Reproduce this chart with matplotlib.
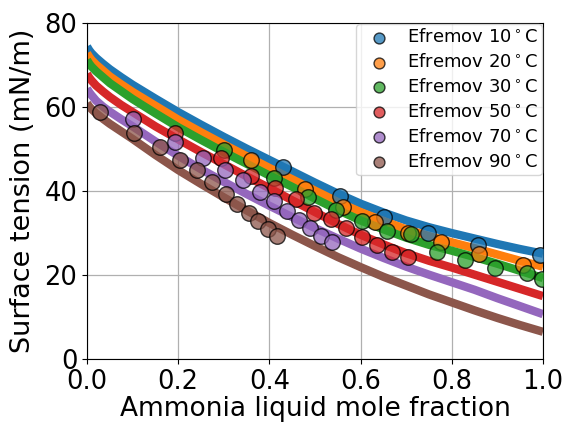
import matplotlib
matplotlib.use("Agg")
import matplotlib.pyplot as plt

# Temperatures and colours
temps = [10, 20, 30, 50, 70, 90]
colors = ["#1f77b4", "#ff7f0e", "#2ca02c", "#d62728", "#9467bd", "#8c564b"]

# Model lines
line_x = [0, 0.005, 0.01, 0.02, 0.035, 0.05, 0.075, 0.1, 0.15, 0.2, 0.25, 0.3, 0.35,
          0.4, 0.45, 0.5, 0.55, 0.6, 0.65, 0.7, 0.75, 0.8, 0.85, 0.9, 0.95, 1.0]
line_10 = [74.4, 73.5, 72.8, 71.7, 70.3, 69.0, 67.1, 65.3, 62.0, 58.8, 55.8, 52.9, 50.1,
           47.4, 44.7, 42.0, 39.4, 37.0, 34.9, 33.0, 31.4, 30.0, 28.7, 27.4, 26.2, 25.1]
line_20 = [72.8, 71.9, 71.2, 70.1, 68.7, 67.3, 65.4, 63.6, 60.3, 57.0, 54.0, 51.1, 48.3,
           45.5, 42.8, 40.1, 37.4, 35.0, 32.9, 30.9, 29.3, 27.8, 26.4, 24.9, 23.4, 22.0]
line_30 = [71.2, 70.3, 69.6, 68.5, 67.1, 65.7, 63.8, 61.9, 58.5, 55.2, 52.2, 49.3, 46.5,
           43.7, 41.0, 38.2, 35.5, 33.0, 30.9, 28.9, 27.2, 25.8, 24.3, 22.7, 21.0, 19.3]
line_50 = [67.9, 67.0, 66.3, 65.1, 63.7, 62.4, 60.5, 58.8, 55.4, 52.3, 49.3, 46.4, 43.5,
           40.7, 37.8, 35.0, 32.2, 29.6, 27.3, 25.2, 23.4, 21.8, 20.1, 18.4, 16.7, 15.0]
line_70 = [64.4, 63.5, 62.8, 61.5, 60.1, 58.9, 57.1, 55.4, 51.8, 48.4, 45.2, 42.2, 39.3,
           36.5, 33.8, 31.2, 28.7, 26.3, 24.1, 22.0, 20.1, 18.3, 16.5, 14.5, 12.6, 10.7]
line_90 = [60.9, 60.1, 59.5, 58.5, 57.2, 56.0, 54.2, 52.4, 48.6, 45.0, 41.7, 38.5, 35.4,
           32.4, 29.6, 26.9, 24.3, 21.9, 19.6, 17.5, 15.4, 13.5, 11.6, 9.8, 8.1, 6.5]

# Efremov data points
ef10_x = [0.429, 0.554, 0.651, 0.747, 0.857, 0.993]
ef10_y = [45.7, 38.8, 33.8, 29.9, 27.1, 24.8]
ef20_x = [0.360, 0.477, 0.561, 0.632, 0.703, 0.777, 0.860, 0.957]
ef20_y = [47.4, 40.6, 36.1, 32.7, 29.9, 27.8, 25.1, 22.5]
ef30_x = [0.300, 0.410, 0.485, 0.547, 0.604, 0.657, 0.710, 0.767, 0.829, 0.894, 0.966, 0.998]
ef30_y = [49.8, 43.0, 38.7, 35.5, 32.9, 30.6, 29.8, 25.4, 23.6, 21.7, 20.4, 19.0]
ef50_x = [0.194, 0.293, 0.360, 0.413, 0.459, 0.497, 0.535, 0.569, 0.604, 0.635, 0.669, 0.703]
ef50_y = [53.9, 47.8, 43.7, 40.8, 38.2, 34.7, 33.3, 31.2, 29.1, 27.2, 25.5, 24.2]
ef70_x = [0.101, 0.192, 0.254, 0.303, 0.342, 0.379, 0.410, 0.439, 0.464, 0.490, 0.514, 0.538]
ef70_y = [57.1, 51.6, 47.9, 45.1, 42.6, 39.8, 37.7, 35.2, 33.2, 31.2, 29.4, 27.8]
ef90_x = [0.028, 0.104, 0.160, 0.205, 0.242, 0.275, 0.304, 0.330, 0.355, 0.376, 0.397, 0.417]
ef90_y = [58.9, 53.9, 50.5, 47.5, 45.0, 42.2, 39.4, 37.0, 34.8, 32.9, 31.0, 29.3]

lines = [line_10, line_20, line_30, line_50, line_70, line_90]
data_x = [ef10_x, ef20_x, ef30_x, ef50_x, ef70_x, ef90_x]
data_y = [ef10_y, ef20_y, ef30_y, ef50_y, ef70_y, ef90_y]

fig = plt.figure(figsize=(5.65, 4.22), dpi=100)
ax = fig.add_axes([0.154, 0.149, 0.807, 0.7965])

for ly, c in zip(lines, colors):
    ax.plot(line_x, ly, color=c, lw=6, solid_capstyle="butt",
            solid_joinstyle="round", zorder=2)

for T, c, dx, dy in zip(temps, colors, data_x, data_y):
    ax.scatter(dx, dy, s=125, color=c, alpha=0.75, edgecolors="black",
               linewidths=1.0, zorder=3, label=f"Efremov {T}$^\\circ$C")

ax.set_xlim(0, 1)
ax.set_ylim(0, 80)
ax.set_xticks([0, 0.2, 0.4, 0.6, 0.8, 1.0])
ax.set_yticks([0, 20, 40, 60, 80])
ax.tick_params(labelsize=18.5)
ax.grid(True, color="#b0b0b0", lw=0.9)
ax.set_axisbelow(True)
ax.set_xlabel("Ammonia liquid mole fraction", fontsize=19, labelpad=1)
ax.set_ylabel("Surface tension (mN/m)", fontsize=19.5, labelpad=6)
ax.legend(loc="upper right", fontsize=13, markerscale=0.7, handletextpad=0.55,
          borderaxespad=0.05, labelspacing=0.38, borderpad=0.25)

fig.savefig("out.png", dpi=100)
